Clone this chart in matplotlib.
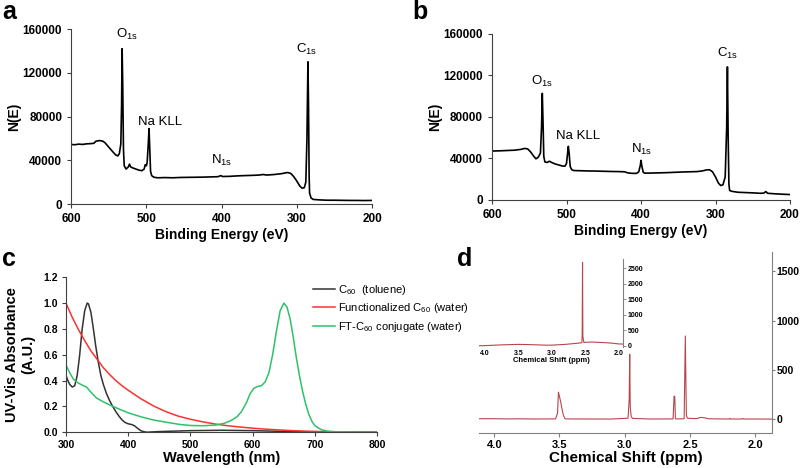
import matplotlib
matplotlib.use('Agg')
import matplotlib.pyplot as plt

plt.rcParams['font.family'] = ['Liberation Sans', 'DejaVu Sans']
plt.rcParams['font.weight'] = 'bold'
plt.rcParams['axes.labelweight'] = 'bold'
plt.rcParams['mathtext.fontset'] = 'custom'
plt.rcParams['mathtext.rm'] = 'Liberation Sans'
plt.rcParams['mathtext.default'] = 'regular'

# --- a: XPS survey (sample 1) ---
a_energy = [600, 595, 590, 585, 580, 575, 570, 567, 562, 558, 555, 550, 545, 541, 538, 536,
            534, 533, 532.3, 531.5, 530.5, 529.5, 527, 524, 522.5, 521, 518, 514, 510, 506,
            503, 501.5, 500, 499, 497.5, 496.5, 495.5, 494.5, 493, 490, 485, 475, 465, 455,
            445, 435, 425, 415, 405, 401, 399, 390, 380, 370, 360, 350, 345, 340, 330, 320,
            315, 312, 308, 304, 300, 296, 293, 290, 288, 286.5, 285.2, 284.4, 283.6, 283,
            281, 278, 270, 260, 250, 240, 230, 220, 210, 200]
a_counts = [54500, 54200, 54800, 54500, 55000, 55200, 55500, 57500, 58000, 57500, 56000, 52000,
            48000, 45000, 44000, 46000, 55000, 90000, 142000, 110000, 50000, 35000, 32000,
            34000, 36500, 34000, 33000, 32000, 31000, 30500, 32000, 36000, 35000, 38000, 55000,
            69000, 50000, 30000, 26000, 24500, 24000, 24200, 24000, 24300, 24400, 24500, 24600,
            24800, 25000, 26000, 25200, 25300, 25700, 26000, 26200, 26500, 27000, 26500, 27000,
            27800, 28500, 28800, 28000, 25000, 21000, 16500, 14500, 15000, 20000, 60000,
            130000, 90000, 25000, 10000, 5500, 4200, 3800, 3500, 3500, 3400, 3300, 3300, 3200,
            3300]

# --- b: XPS survey (sample 2) ---
b_energy = [600, 590, 580, 570, 562, 556, 552, 548, 544, 541, 538, 535, 533.5, 532.5, 531.5,
            530.5, 529, 526, 523, 520, 515, 510, 505, 502, 500, 498.5, 497.5, 496.5, 495, 493,
            490, 480, 470, 460, 450, 440, 430, 422, 418, 412, 406, 403, 401, 400, 399, 397,
            395, 385, 375, 365, 355, 345, 335, 325, 318, 312, 308, 304, 300, 296, 293, 290,
            287, 285, 284, 283, 282, 281, 278, 270, 260, 250, 240, 235, 232.5, 230, 220, 210,
            200]
b_counts = [47000, 47200, 47500, 47800, 48500, 49500, 49000, 46000, 42000, 39500, 41000, 45000,
            70000, 102500, 75000, 42000, 36500, 36000, 37200, 36000, 34500, 33500, 32500, 32500,
            35000, 45000, 51500, 45000, 32000, 29000, 28200, 28000, 27800, 27700, 27500, 27300,
            27200, 27000, 26000, 25500, 25500, 27000, 33000, 38000, 33000, 26500, 25700, 25800,
            26000, 26200, 26500, 26800, 27000, 27200, 27800, 28800, 29000, 27000, 22000, 16000,
            13800, 14500, 22000, 70000, 128000, 60000, 15000, 9000, 8200, 7300, 7000, 6700,
            6300, 6500, 8000, 6300, 5800, 5400, 5100]

# --- c: UV-Vis ---
c60_wl = [300, 303, 306, 310, 314, 318, 322, 326, 330, 334, 336, 340, 344, 348, 352, 356, 360,
          365, 370, 375, 380, 385, 390, 395, 400, 405, 410, 415, 420, 425, 430, 450, 500, 550,
          600, 650, 700, 800]
c60_abs = [0.44, 0.40, 0.37, 0.35, 0.36, 0.44, 0.60, 0.80, 0.94, 1.0, 0.995, 0.93, 0.80, 0.66,
           0.54, 0.44, 0.37, 0.30, 0.245, 0.20, 0.16, 0.125, 0.095, 0.075, 0.065, 0.06, 0.05,
           0.03, 0.012, 0.004, 0.0, 0.005, 0.012, 0.015, 0.012, 0.006, 0.002, 0.0]

func_wl = [300, 310, 320, 330, 340, 350, 360, 370, 380, 390, 400, 420, 440, 460, 480, 500, 520,
           540, 560, 580, 600, 620, 640, 660, 680, 700, 720, 750, 800]
func_abs = [1.0, 0.89, 0.795, 0.71, 0.63, 0.565, 0.50, 0.447, 0.40, 0.36, 0.325, 0.26, 0.205,
            0.16, 0.125, 0.10, 0.08, 0.063, 0.05, 0.04, 0.031, 0.024, 0.018, 0.013, 0.009,
            0.006, 0.004, 0.002, 0.0005]

ft_wl = [300, 306, 312, 320, 328, 333, 340, 349, 360, 373, 385, 400, 420, 440, 460, 483, 500,
         520, 540, 555, 565, 575, 582, 590, 596, 602, 608, 614, 620, 626, 632, 638, 644, 650,
         655, 660, 665, 670, 675, 680, 685, 690, 695, 700, 710, 720, 740, 800]
ft_abs = [0.52, 0.46, 0.41, 0.38, 0.36, 0.35, 0.31, 0.265, 0.235, 0.205, 0.18, 0.15, 0.12,
          0.095, 0.078, 0.06, 0.052, 0.05, 0.055, 0.07, 0.09, 0.12, 0.16, 0.23, 0.30, 0.34,
          0.355, 0.36, 0.39, 0.46, 0.60, 0.78, 0.94, 1.0, 0.97, 0.88, 0.74, 0.58, 0.44, 0.32,
          0.22, 0.14, 0.085, 0.05, 0.02, 0.008, 0.002, 0.0]

# --- d: 1H NMR ---
nmr_ppm = [4.12, 4.0, 3.9, 3.8, 3.7, 3.6, 3.53, 3.515, 3.508, 3.50, 3.49, 3.48, 3.47, 3.46,
           3.45, 3.3, 3.1, 2.975, 2.966, 2.962, 2.958, 2.95, 2.94, 2.8, 2.63, 2.622, 2.617,
           2.612, 2.6, 2.545, 2.536, 2.532, 2.528, 2.52, 2.45, 2.42, 2.39, 2.36, 2.3, 2.2,
           2.195, 2.19, 2.1, 2.095, 2.09, 2.0, 1.87]
nmr_int = [5, 5, 3, 4, 2, 3, 3, 60, 275, 230, 170, 100, 40, 10, 3, 2, 2, 10, 200, 660, 120, 25,
           8, 2, 3, 235, 230, 5, 3, 5, 845, 420, 40, 10, 6, 18, 15, 5, 3, 2, 9, 2, 2, 8, 2, 2, 1]

inset_ppm = [4.09, 4.0, 3.8, 3.6, 3.5, 3.3, 3.1, 3.0, 2.8, 2.6, 2.55, 2.545, 2.54, 2.535,
             2.52, 2.45, 2.4, 2.3, 2.2, 2.1, 2.0, 1.93]
inset_int = [0, 5, 25, 40, 45, 35, 20, 20, 45, 85, 100, 400, 2680, 300, 110, 115, 120, 110,
             100, 85, 60, 55]

fig = plt.figure(figsize=(8, 4.68), dpi=100)
spine_col = '#404040'


def style_xps(ax):
    ax.spines['top'].set_visible(False)
    ax.spines['right'].set_visible(False)
    ax.spines['left'].set_color(spine_col)
    ax.spines['bottom'].set_color(spine_col)
    ax.tick_params(direction='out', length=3, width=0.8, color=spine_col, labelsize=8.5)


# Panel a
ax_a = fig.add_axes([0.089, 0.564, 0.376, 0.374])
ax_a.plot(a_energy, a_counts, color='black', lw=1.2)
ax_a.set_xlim(600, 200)
ax_a.set_ylim(0, 160000)
ax_a.set_xticks([600, 500, 400, 300, 200])
ax_a.set_yticks([0, 40000, 80000, 120000, 160000])
ax_a.set_xlabel('Binding Energy (eV)', fontsize=10, labelpad=2)
ax_a.set_ylabel('N(E)', fontsize=10, labelpad=1)
style_xps(ax_a)
for txt, x, y in [('O$_{1s}$', 526, 155000), ('Na KLL', 481.6, 75000),
                  ('N$_{1s}$', 399.6, 40000), ('C$_{1s}$', 286.5, 141000)]:
    ax_a.text(x, y, txt, ha='center', va='center', fontsize=9.5, fontweight='normal')

# Panel b
ax_b = fig.add_axes([0.615, 0.573, 0.3725, 0.355])
ax_b.plot(b_energy, b_counts, color='black', lw=1.2)
ax_b.set_xlim(600, 200)
ax_b.set_ylim(0, 160000)
ax_b.set_xticks([600, 500, 400, 300, 200])
ax_b.set_yticks([0, 40000, 80000, 120000, 160000])
ax_b.set_xlabel('Binding Energy (eV)', fontsize=10, labelpad=2)
ax_b.set_ylabel('N(E)', fontsize=10, labelpad=1)
style_xps(ax_b)
for txt, x, y in [('O$_{1s}$', 533, 114400), ('Na KLL', 484, 61400),
                  ('N$_{1s}$', 399, 48500), ('C$_{1s}$', 283.7, 141000)]:
    ax_b.text(x, y, txt, ha='center', va='center', fontsize=9.5, fontweight='normal')

# Panel c
ax_c = fig.add_axes([0.0825, 0.0765, 0.389, 0.331])
ax_c.plot(c60_wl, c60_abs, color='#333333', lw=1.1, label='C$_{60}$  (toluene)')
ax_c.plot(func_wl, func_abs, color='#ff3030', lw=1.1, label='Functionalized C$_{60}$ (water)')
ax_c.plot(ft_wl, ft_abs, color='#2ec16a', lw=1.1, label='FT-C$_{60}$ conjugate (water)')
ax_c.set_xlim(300, 800)
ax_c.set_ylim(0, 1.2)
ax_c.set_xticks([300, 400, 500, 600, 700, 800])
ax_c.set_yticks([0, 0.2, 0.4, 0.6, 0.8, 1.0, 1.2])
ax_c.set_yticklabels(['0.0', '0.2', '0.4', '0.6', '0.8', '1.0', '1.2'])
ax_c.set_xlabel('Wavelength (nm)', fontsize=10.5, labelpad=1)
ax_c.set_ylabel('UV-Vis Absorbance\n(A.U.)', fontsize=10.5, labelpad=6)
style_xps(ax_c)
ax_c.tick_params(labelsize=7.5, pad=2.5)
leg = ax_c.legend(loc='upper left', bbox_to_anchor=(0.76, 1.03), frameon=False,
                  prop={'size': 8, 'weight': 'normal'}, handlelength=2.0,
                  handletextpad=0.3, labelspacing=0.4)

# Panel d: main spectrum
d_col = '#b5474b'
ax_d = fig.add_axes([0.599, 0.075, 0.366, 0.387])
ax_d.plot(nmr_ppm, nmr_int, color=d_col, lw=0.8)
ax_d.set_xlim(4.115, 1.872)
ax_d.set_ylim(-139, 1700)
ax_d.set_xticks([4.0, 3.5, 3.0, 2.5, 2.0])
ax_d.set_yticks([0, 500, 1000, 1500])
ax_d.yaxis.tick_right()
ax_d.spines['top'].set_visible(False)
ax_d.spines['left'].set_visible(False)
ax_d.spines['right'].set_color('#808080')
ax_d.spines['bottom'].set_color('#808080')
ax_d.tick_params(direction='out', length=3, width=0.8, color='#808080', labelsize=8, pad=2)
ax_d.tick_params(axis='y', length=2.5, labelsize=7.5, pad=1)
ax_d.set_xlabel('Chemical Shift (ppm)', fontsize=11, labelpad=1)

# Panel d: inset
ax_i = fig.add_axes([0.599, 0.2585, 0.18, 0.188])
ax_i.plot(inset_ppm, inset_int, color=d_col, lw=0.8)
ax_i.set_xlim(4.09, 1.93)
ax_i.set_ylim(-40, 2790)
ax_i.set_xticks([4.0, 3.5, 3.0, 2.5, 2.0])
ax_i.set_yticks([0, 500, 1000, 1500, 2000, 2500])
ax_i.yaxis.tick_right()
ax_i.patch.set_alpha(0)
for s in ['top', 'left', 'bottom']:
    ax_i.spines[s].set_visible(False)
ax_i.spines['right'].set_color('#808080')
ax_i.tick_params(direction='out', length=2, width=0.6, color='#808080', labelsize=5, pad=1)
ax_i.tick_params(axis='x', length=0, pad=2)
ax_i.set_xlabel('Chemical Shift (ppm)', fontsize=5.5, labelpad=0)

# Panel letters
fig.text(0.003, 0.999, 'a', fontsize=18, fontweight='bold', va='top')
fig.text(0.516, 0.999, 'b', fontsize=18, fontweight='bold', va='top')
fig.text(0.003, 0.472, 'c', fontsize=18, fontweight='bold', va='top')
fig.text(0.571, 0.472, 'd', fontsize=18, fontweight='bold', va='top')

plt.savefig('out.png', dpi=100)
